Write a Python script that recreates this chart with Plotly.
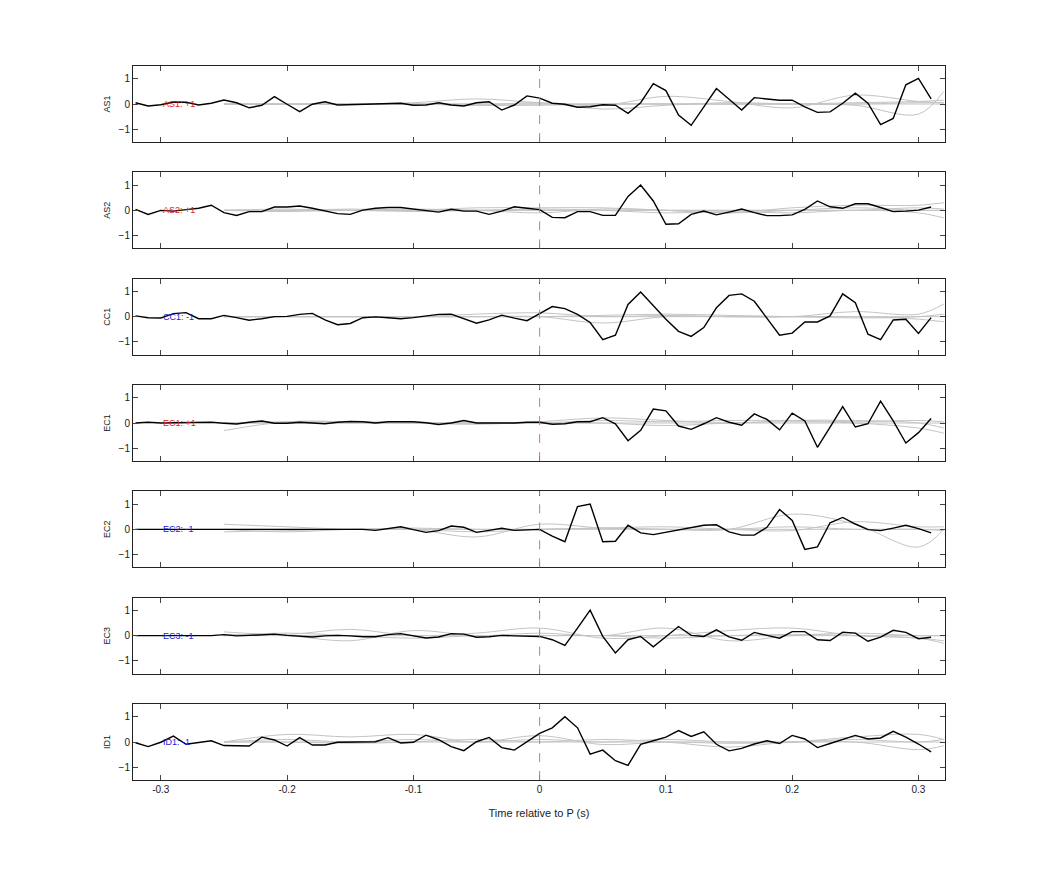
import plotly.graph_objects as go

t = [round(-0.32 + 0.01 * i, 2) for i in range(64)]
stations = ["AS1", "AS2", "CC1", "EC1", "EC2", "EC3", "ID1"]
labels = ["AS1: +1", "AS2: +1", "CC1: -1", "EC1: +1", "EC2: -1", "EC3: -1", "ID1: -1"]
label_colors = ["#e02020", "#e02020", "#2020e0", "#e02020", "#2020e0", "#2020e0", "#2020e0"]

AS1 = [0.05,-0.08,-0.03,0.08,0.07,-0.04,0.03,0.16,0.05,-0.15,-0.05,0.29,-0.01,-0.3,-0.01,0.09,-0.04,-0.02,0,0.01,0.01,0.03,-0.05,-0.04,0.05,-0.04,-0.08,
       0.05,0.09,-0.24,-0.04,0.32,0.23,0.03,-0.01,-0.13,-0.11,-0.03,-0.05,-0.37,0.05,0.8,0.53,-0.44,-0.84,-0.11,0.61,0.19,-0.24,0.25,0.21,0.15,0.15,-0.11,-0.33,-0.31,0.03,0.43,0.03,-0.81,-0.57,0.76,1.01,0.2]
AS2 = [0.04,-0.16,0,-0.03,0.03,0.08,0.2,-0.09,-0.2,-0.05,-0.05,0.13,0.13,0.17,0.08,-0.03,-0.13,-0.16,0.01,0.08,
       0.11,0.11,0.05,-0.03,-0.07,0.04,-0.03,-0.03,-0.16,-0.03,0.14,0.08,0.03,-0.28,-0.29,-0.05,-0.05,-0.2,-0.2,0.55,
       1.0,0.37,-0.55,-0.53,-0.16,-0.03,-0.18,-0.07,0.05,-0.09,-0.21,-0.21,-0.18,0.04,0.37,0.14,0.08,0.26,0.26,0.11,-0.05,-0.03,0.01,0.13]
CC1 = [0.03,-0.04,-0.05,0.12,0.16,-0.08,-0.08,0.05,-0.04,-0.14,-0.08,0,0.01,0.09,0.13,-0.13,-0.32,-0.27,-0.04,-0.01,
       -0.04,-0.08,-0.04,0.04,0.09,0.1,-0.08,-0.26,-0.13,0.06,-0.06,-0.16,0.12,0.4,0.32,0.09,-0.23,-0.91,-0.73,0.48,
       0.97,0.42,-0.1,-0.58,-0.78,-0.43,0.35,0.84,0.9,0.61,-0.04,-0.73,-0.65,-0.21,-0.21,0.03,0.9,0.55,-0.69,-0.91,-0.13,-0.1,-0.66,-0.04]
EC1 = [0,0.03,0,0.01,0.03,0.03,0.03,-0.01,-0.04,0.03,0.08,-0.01,-0.01,0.03,0,-0.03,0.03,0.06,0.05,0,
       0.05,0.06,0.05,0.01,-0.06,0,0.1,0,-0.01,0,0,0.03,0.03,-0.05,-0.03,0.05,0.05,0.21,-0.03,-0.7,
       -0.29,0.55,0.48,-0.12,-0.25,-0.03,0.21,0.03,-0.09,0.36,0.14,-0.27,0.39,0.08,-0.96,-0.16,0.65,-0.16,-0.03,0.86,0.08,-0.79,-0.38,0.18]
EC2 = [0,0,0,0,0,0,0,0.01,0.01,0,0,0,0,0,0.01,0,0,0,0,
       -0.04,0.03,0.1,-0.01,-0.12,-0.05,0.13,0.08,-0.12,-0.04,0.04,-0.04,-0.01,0,-0.27,-0.49,0.9,1.0,-0.49,-0.47,
       0.16,-0.14,-0.21,-0.12,-0.01,0.08,0.16,0.18,-0.1,-0.23,-0.23,0.08,0.78,0.35,-0.79,-0.69,0.26,0.47,0.21,-0.01,-0.05,0.05,0.16,0.03,-0.14]
EC3 = [0,0,0,0,0,-0.01,0,
       0.04,-0.01,0.01,0.04,0.06,0.01,-0.03,-0.05,-0.01,0.01,-0.01,-0.04,-0.04,0.04,0.08,0,-0.09,-0.05,0.08,0.06,-0.06,-0.04,0.01,-0.01,-0.03,-0.03,
       -0.16,-0.38,0.3,1.01,-0.03,-0.68,-0.16,-0.03,-0.44,-0.05,0.36,0.01,-0.03,0.23,-0.05,-0.18,0.13,0.01,-0.1,0.16,0.16,-0.16,-0.19,0.14,0.1,-0.22,-0.06,0.21,0.13,-0.12,-0.06]
ID1 = [-0.03,-0.18,-0.01,0.23,-0.09,-0.01,0.05,-0.14,-0.16,-0.16,0.19,0.08,-0.16,0.17,-0.12,-0.12,-0.01,-0.01,0,0.01,
       0.17,-0.04,-0.01,0.27,0.09,-0.18,-0.34,0.01,0.18,-0.22,-0.32,0.01,0.34,0.56,1.0,0.56,-0.48,-0.32,-0.74,-0.92,
       -0.09,0.05,0.19,0.45,0.22,0.4,-0.09,-0.35,-0.25,-0.08,0.05,-0.06,0.26,0.12,-0.22,-0.06,0.1,0.26,0.12,0.16,0.42,0.19,-0.08,-0.39]
black = [AS1, AS2, CC1, EC1, EC2, EC3, ID1]

tg = [-0.25,-0.2,-0.15,-0.1,-0.05,0,0.05,0.1,0.15,0.2,0.25,0.3,0.32]
flat = [0,0,0,0,0,0,0,0,0,0,0,0,0]
gray = [
    [[0,0,0,0.05,0.2,0.05,-0.05,0.3,0.1,-0.15,0.35,0.1,0.05],[0,0,0,0,-0.05,0.05,-0.2,-0.05,0.05,0,-0.05,-0.4,0.5],
     [0,0,0,0,0,0,0,0,0,0,0.05,0.1,0.15],[0,-0.02,0,0,-0.05,-0.05,0,0,0,0,0,0.05,0.05],flat],
    [[0,0,0.05,0,0.1,0.1,0.1,0,-0.1,0.1,0.2,0.2,0.3],[0,-0.05,0,-0.05,0,0.05,0,-0.1,-0.05,-0.1,0,-0.1,-0.3],
     [0,0,0,0,0,0,0,0,0,0,0,0.1,0.05],[0,0.05,0,0.05,0,-0.1,0.05,0,-0.1,0,0.1,0,0],flat],
    [[0,0,0,0,0.1,0.15,0,0.05,0,0,0.2,0.1,0.5],[0,0,0,0,0,0,-0.25,0,0,0,0,-0.1,-0.2],
     [0,0,0,0,0,0,0.05,0.1,0.05,0,-0.05,0,0.1],flat],
    [[-0.3,0.05,0.05,0,-0.05,0.05,0.2,0.1,0,0.1,0.1,0,-0.2],[0,0,0,0,0,0,0,-0.1,0,0.05,0,-0.2,-0.4],
     [0,0.05,0.05,0,0,0,0.1,0.05,0.1,0.1,0.05,0.1,0.05],flat],
    [[0.2,0.1,0,0,-0.3,0.2,0.05,0,0,0.6,0.2,-0.7,0],[0,-0.1,0,0,-0.1,0,0.05,0.1,0,-0.05,0.3,0.1,0.1],
     [-0.1,-0.05,0,0.05,0,0,0.05,0,0,0.1,0,0,-0.05],flat],
    [[0.15,0.05,0.25,0,0.1,0.3,-0.1,0,0.2,0.3,0,-0.1,-0.3],[0.05,0,-0.2,0.2,0,0.1,0,0.3,-0.2,0,0.1,0,0],
     [0,0.1,0,-0.1,0,0,0,-0.1,0,0.05,0,-0.1,-0.2],flat],
    [[0,0.3,0.2,0.3,0,0.25,-0.1,0,-0.05,0,0.2,0.3,0.1],[0,0,-0.05,0,0.1,0,0.1,0,-0.2,0,0,-0.3,-0.15],
     [0,0.1,0,0.1,0,0.1,0,0.1,0,0,0.1,0,0.1],flat],
]
xticks = [-0.3, -0.2, -0.1, 0, 0.1, 0.2, 0.3]
xticklabels = ["-0.3", "-0.2", "-0.1", "0", "0.1", "0.2", "0.3"]

W, H = 1042, 875
L, R, T, B = 125, 937, 58, 772
PH = 76
n = len(stations)
step = (B - T - PH) / (n - 1)
fig = go.Figure()
font = "Liberation Sans, Arial, sans-serif"
layout = dict(width=W, height=H, plot_bgcolor="white", paper_bgcolor="white", showlegend=False,
              margin=dict(l=L, r=W - R, t=T, b=H - B), font=dict(family=font, size=10, color="#222"))
for i in range(n):
    ax = "" if i == 0 else str(i + 1)
    top = T + step * i
    bot = top + PH
    d0 = max(0.0, (B - bot) / (B - T))
    d1 = min(1.0, (B - top) / (B - T))
    xa, ya = "x" + ax, "y" + ax
    for g in gray[i]:
        fig.add_trace(go.Scatter(x=tg, y=g, mode="lines", line=dict(color="#c4c4c4", width=1, shape="spline"),
                                 xaxis=xa, yaxis=ya, hoverinfo="skip"))
    fig.add_trace(go.Scatter(x=t, y=black[i], mode="lines", line=dict(color="black", width=1.4),
                             xaxis=xa, yaxis=ya))
    last = i == n - 1
    layout["xaxis" + ax] = dict(domain=[0, 1], range=[-0.322, 0.321], anchor=ya, tickvals=xticks,
                                ticktext=xticklabels, showticklabels=last, ticks="inside", ticklen=5,
                                mirror="ticks", showline=True, linecolor="#222", linewidth=1, showgrid=False,
                                zeroline=False, tickfont=dict(size=10),
                                title=dict(text="Time relative to P (s)" if last else "", font=dict(size=11)))
    layout["yaxis" + ax] = dict(domain=[d0, d1], range=[-1.5, 1.5], anchor=xa, tickvals=[-1, 0, 1],
                                ticks="inside", ticklen=5, mirror="ticks", showline=True, linecolor="#222",
                                linewidth=1, showgrid=False, zeroline=False, tickfont=dict(size=10),
                                title=dict(text=stations[i], font=dict(size=9), standoff=6))
    fig.add_shape(type="line", x0=0, x1=0, y0=0, y1=1, xref=xa, yref=ya + " domain",
                  line=dict(color="#e07070", width=1, dash="dash"))
    fig.add_annotation(x=-0.3, y=0, xref=xa, yref=ya, text=labels[i], showarrow=False, xanchor="left",
                       font=dict(color=label_colors[i], size=9))
fig.update_layout(**layout)
fig.write_html("out.html")
